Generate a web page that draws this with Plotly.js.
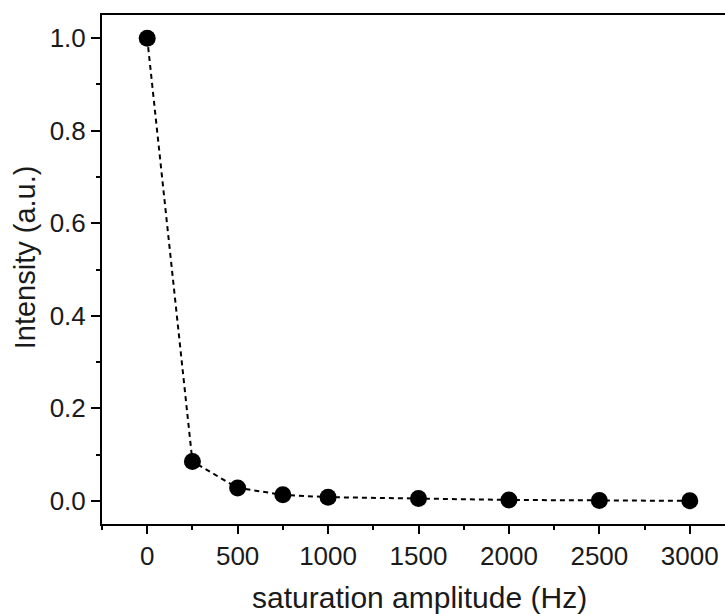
<!DOCTYPE html>
<html>
<head>
<meta charset="utf-8">
<script src="https://cdn.plot.ly/plotly-3.0.1.min.js"></script>
<style>
html, body { margin: 0; padding: 0; overflow: hidden; background: #fff; }
#chart { width: 740px; height: 614px; }
</style>
</head>
<body>
<div id="chart"></div>
<script>
const amplitudeHz = [0, 250, 500, 750, 1000, 1500, 2000, 2500, 3000];
const intensity = [1.0, 0.085, 0.028, 0.013, 0.008, 0.005, 0.002, 0.001, 0.0];
const xTickVals = [0, 500, 1000, 1500, 2000, 2500, 3000];
const yTickVals = [0.0, 0.2, 0.4, 0.6, 0.8, 1.0];
const yTickText = ["0.0", "0.2", "0.4", "0.6", "0.8", "1.0"];

const font = "Liberation Sans, Arial, sans-serif";
const textColor = "#1a1a1a";

const trace = {
  x: amplitudeHz,
  y: intensity,
  type: "scatter",
  mode: "lines+markers",
  line: { color: "#000", width: 2, dash: "5px,4px" },
  marker: { color: "#000", size: 17 },
  cliponaxis: false,
  hoverinfo: "skip"
};

const layout = {
  width: 740,
  height: 614,
  margin: { l: 102, r: 5, t: 14.5, b: 90 },
  paper_bgcolor: "#fff",
  plot_bgcolor: "#fff",
  showlegend: false,
  font: { family: font, size: 26, color: textColor },
  xaxis: {
    range: [-250, 3250],
    tickmode: "array",
    tickvals: xTickVals,
    ticks: "outside",
    ticklen: 8,
    tickwidth: 2,
    tickcolor: "#000",
    showline: true,
    linewidth: 2,
    linecolor: "#000",
    mirror: true,
    showgrid: false,
    zeroline: false,
    tickfont: { family: font, size: 26, color: textColor },
    minor: { dtick: 250, tick0: 250, ticks: "outside", ticklen: 4, tickwidth: 2, tickcolor: "#000", showgrid: false }
  },
  yaxis: {
    range: [-0.05, 1.05],
    tickmode: "array",
    tickvals: yTickVals,
    ticktext: yTickText,
    ticks: "outside",
    ticklen: 9,
    tickwidth: 2,
    tickcolor: "#000",
    showline: true,
    linewidth: 2,
    linecolor: "#000",
    mirror: true,
    showgrid: false,
    zeroline: false,
    tickfont: { family: font, size: 26, color: textColor },
    minor: { dtick: 0.1, tick0: 0.1, ticks: "outside", ticklen: 4, tickwidth: 2, tickcolor: "#000", showgrid: false }
  },
  annotations: [{
    text: "saturation amplitude (Hz)",
    xref: "paper", yref: "paper",
    x: 0.502, y: 0, yshift: -73,
    xanchor: "center", yanchor: "middle",
    showarrow: false,
    font: { family: font, size: 30, color: textColor }
  }, {
    text: "Intensity (a.u.)",
    xref: "paper", yref: "paper",
    x: 0, xshift: -77, y: 0.524,
    xanchor: "center", yanchor: "middle",
    textangle: -90,
    showarrow: false,
    font: { family: font, size: 29, color: textColor }
  }]
};

Plotly.newPlot("chart", [trace], layout, { displayModeBar: false, staticPlot: true });
</script>
</body>
</html>
